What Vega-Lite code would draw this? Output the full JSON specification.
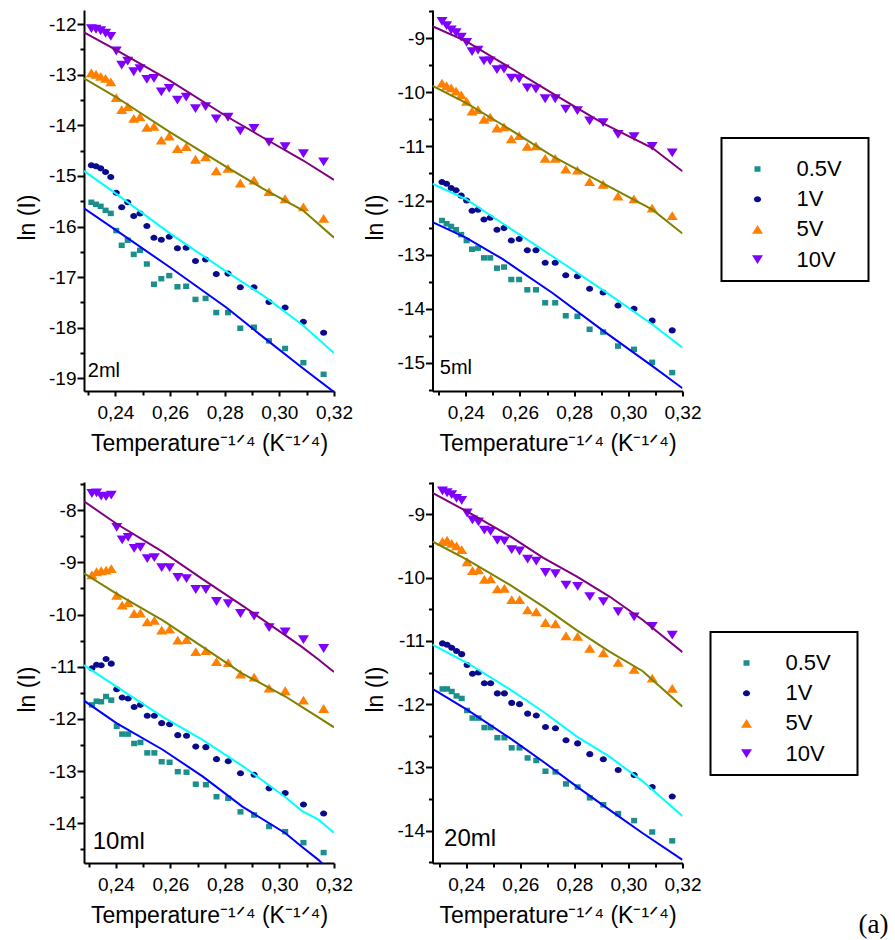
{
  "$schema": "https://vega.github.io/schema/vega-lite/v6.json",
  "padding": {"left": 16, "top": 10, "right": 40, "bottom": 5},
  "background": "white",
  "config": {
    "font": "Liberation Sans",
    "locale": {"number": {"decimal": ",", "thousands": ".", "grouping": [3], "currency": ["", ""], "minus": "-"}},
    "view": {"stroke": null},
    "axis": {"domainColor": "black", "domainWidth": 2, "tickColor": "black", "tickWidth": 2, "labelColor": "black", "labelFontSize": 19, "labelFont": "Liberation Sans", "titleFont": "Liberation Sans", "titleFontSize": 23, "titleFontWeight": "normal", "titleColor": "black", "grid": false, "labelOverlap": false, "labelSeparation": -100, "labelFlush": false},
    "legend": {"strokeWidth": 2}
  },
  "datasets": {
    "pts": [
      {"p":"2ml","x":0.2312,"v05":-15.52,"v1":-14.79,"v5":-12.96,"v10":-12.09},
      {"p":"2ml","x":0.2329,"v05":-15.56,"v1":-14.81,"v5":-12.99,"v10":-12.1},
      {"p":"2ml","x":0.2346,"v05":-15.6,"v1":-14.85,"v5":-13.03,"v10":-12.13},
      {"p":"2ml","x":0.2364,"v05":-15.68,"v1":-14.92,"v5":-13.07,"v10":-12.18},
      {"p":"2ml","x":0.2383,"v05":-15.74,"v1":-15.02,"v5":-13.14,"v10":-12.24},
      {"p":"2ml","x":0.2403,"v05":-16.08,"v1":-15.33,"v5":-13.45,"v10":-12.53},
      {"p":"2ml","x":0.2423,"v05":-16.37,"v1":-15.62,"v5":-13.69,"v10":-12.81},
      {"p":"2ml","x":0.2445,"v05":-16.27,"v1":-15.52,"v5":-13.63,"v10":-12.73},
      {"p":"2ml","x":0.2467,"v05":-16.55,"v1":-15.79,"v5":-13.86,"v10":-12.94},
      {"p":"2ml","x":0.249,"v05":-16.47,"v1":-15.74,"v5":-13.83,"v10":-12.88},
      {"p":"2ml","x":0.2515,"v05":-16.74,"v1":-15.99,"v5":-14.04,"v10":-13.09},
      {"p":"2ml","x":0.2541,"v05":-17.14,"v1":-16.22,"v5":-14.02,"v10":-13.07},
      {"p":"2ml","x":0.2568,"v05":-17.03,"v1":-16.26,"v5":-14.29,"v10":-13.34},
      {"p":"2ml","x":0.2597,"v05":-16.97,"v1":-16.2,"v5":-14.21,"v10":-13.27},
      {"p":"2ml","x":0.2627,"v05":-17.19,"v1":-16.43,"v5":-14.46,"v10":-13.5},
      {"p":"2ml","x":0.2659,"v05":-17.18,"v1":-16.42,"v5":-14.42,"v10":-13.44},
      {"p":"2ml","x":0.2693,"v05":-17.44,"v1":-16.68,"v5":-14.67,"v10":-13.67},
      {"p":"2ml","x":0.273,"v05":-17.42,"v1":-16.65,"v5":-14.62,"v10":-13.63},
      {"p":"2ml","x":0.2769,"v05":-17.7,"v1":-16.94,"v5":-14.9,"v10":-13.87},
      {"p":"2ml","x":0.2812,"v05":-17.7,"v1":-16.93,"v5":-14.85,"v10":-13.84},
      {"p":"2ml","x":0.2857,"v05":-18.01,"v1":-17.2,"v5":-15.14,"v10":-14.11},
      {"p":"2ml","x":0.2907,"v05":-17.99,"v1":-17.2,"v5":-15.08,"v10":-14.06},
      {"p":"2ml","x":0.2962,"v05":-18.26,"v1":-17.49,"v5":-15.31,"v10":-14.33},
      {"p":"2ml","x":0.3021,"v05":-18.41,"v1":-17.6,"v5":-15.45,"v10":-14.42},
      {"p":"2ml","x":0.3088,"v05":-18.69,"v1":-17.88,"v5":-15.61,"v10":-14.56},
      {"p":"2ml","x":0.3162,"v05":-18.92,"v1":-18.1,"v5":-15.84,"v10":-14.72},
      {"p":"5ml","x":0.2312,"v05":-12.37,"v1":-11.66,"v5":-9.83,"v10":-8.69},
      {"p":"5ml","x":0.2329,"v05":-12.43,"v1":-11.69,"v5":-9.88,"v10":-8.77},
      {"p":"5ml","x":0.2346,"v05":-12.48,"v1":-11.77,"v5":-9.92,"v10":-8.85},
      {"p":"5ml","x":0.2364,"v05":-12.54,"v1":-11.81,"v5":-9.98,"v10":-8.9},
      {"p":"5ml","x":0.2383,"v05":-12.63,"v1":-11.91,"v5":-10.05,"v10":-8.98},
      {"p":"5ml","x":0.2403,"v05":-12.74,"v1":-12.0,"v5":-10.17,"v10":-9.08},
      {"p":"5ml","x":0.2423,"v05":-12.9,"v1":-12.19,"v5":-10.35,"v10":-9.25},
      {"p":"5ml","x":0.2445,"v05":-12.88,"v1":-12.17,"v5":-10.32,"v10":-9.22},
      {"p":"5ml","x":0.2467,"v05":-13.06,"v1":-12.35,"v5":-10.5,"v10":-9.42},
      {"p":"5ml","x":0.249,"v05":-13.06,"v1":-12.32,"v5":-10.46,"v10":-9.42},
      {"p":"5ml","x":0.2515,"v05":-13.25,"v1":-12.54,"v5":-10.66,"v10":-9.58},
      {"p":"5ml","x":0.2541,"v05":-13.23,"v1":-12.51,"v5":-10.64,"v10":-9.57},
      {"p":"5ml","x":0.2568,"v05":-13.46,"v1":-12.74,"v5":-10.86,"v10":-9.74},
      {"p":"5ml","x":0.2597,"v05":-13.46,"v1":-12.71,"v5":-10.8,"v10":-9.75},
      {"p":"5ml","x":0.2627,"v05":-13.65,"v1":-12.92,"v5":-11.0,"v10":-9.92},
      {"p":"5ml","x":0.2659,"v05":-13.65,"v1":-12.92,"v5":-10.99,"v10":-9.94},
      {"p":"5ml","x":0.2693,"v05":-13.89,"v1":-13.15,"v5":-11.22,"v10":-10.12},
      {"p":"5ml","x":0.273,"v05":-13.89,"v1":-13.15,"v5":-11.22,"v10":-10.12},
      {"p":"5ml","x":0.2769,"v05":-14.13,"v1":-13.38,"v5":-11.42,"v10":-10.31},
      {"p":"5ml","x":0.2812,"v05":-14.14,"v1":-13.4,"v5":-11.44,"v10":-10.34},
      {"p":"5ml","x":0.2857,"v05":-14.38,"v1":-13.63,"v5":-11.65,"v10":-10.53},
      {"p":"5ml","x":0.2907,"v05":-14.43,"v1":-13.7,"v5":-11.7,"v10":-10.56},
      {"p":"5ml","x":0.2962,"v05":-14.69,"v1":-13.94,"v5":-11.92,"v10":-10.78},
      {"p":"5ml","x":0.3021,"v05":-14.75,"v1":-14.0,"v5":-11.97,"v10":-10.82},
      {"p":"5ml","x":0.3088,"v05":-14.99,"v1":-14.22,"v5":-12.14,"v10":-11.0},
      {"p":"5ml","x":0.3162,"v05":-15.18,"v1":-14.4,"v5":-12.28,"v10":-11.12},
      {"p":"10ml","x":0.2312,"v05":-11.73,"v1":-11.03,"v5":-9.24,"v10":-7.68},
      {"p":"10ml","x":0.2329,"v05":-11.66,"v1":-10.96,"v5":-9.18,"v10":-7.67},
      {"p":"10ml","x":0.2346,"v05":-11.67,"v1":-10.97,"v5":-9.16,"v10":-7.73},
      {"p":"10ml","x":0.2364,"v05":-11.57,"v1":-10.85,"v5":-9.15,"v10":-7.74},
      {"p":"10ml","x":0.2383,"v05":-11.64,"v1":-10.94,"v5":-9.12,"v10":-7.71},
      {"p":"10ml","x":0.2403,"v05":-12.14,"v1":-11.43,"v5":-9.63,"v10":-8.33},
      {"p":"10ml","x":0.2423,"v05":-12.29,"v1":-11.59,"v5":-9.82,"v10":-8.57},
      {"p":"10ml","x":0.2445,"v05":-12.29,"v1":-11.61,"v5":-9.77,"v10":-8.52},
      {"p":"10ml","x":0.2467,"v05":-12.47,"v1":-11.77,"v5":-9.98,"v10":-8.73},
      {"p":"10ml","x":0.249,"v05":-12.45,"v1":-11.73,"v5":-9.97,"v10":-8.71},
      {"p":"10ml","x":0.2515,"v05":-12.65,"v1":-11.94,"v5":-10.14,"v10":-8.93},
      {"p":"10ml","x":0.2541,"v05":-12.65,"v1":-11.94,"v5":-10.11,"v10":-8.91},
      {"p":"10ml","x":0.2568,"v05":-12.82,"v1":-12.08,"v5":-10.3,"v10":-9.1},
      {"p":"10ml","x":0.2597,"v05":-12.83,"v1":-12.1,"v5":-10.28,"v10":-9.1},
      {"p":"10ml","x":0.2627,"v05":-13.01,"v1":-12.31,"v5":-10.49,"v10":-9.29},
      {"p":"10ml","x":0.2659,"v05":-13.02,"v1":-12.32,"v5":-10.48,"v10":-9.31},
      {"p":"10ml","x":0.2693,"v05":-13.25,"v1":-12.53,"v5":-10.71,"v10":-9.52},
      {"p":"10ml","x":0.273,"v05":-13.26,"v1":-12.54,"v5":-10.69,"v10":-9.52},
      {"p":"10ml","x":0.2769,"v05":-13.49,"v1":-12.77,"v5":-10.9,"v10":-9.75},
      {"p":"10ml","x":0.2812,"v05":-13.52,"v1":-12.81,"v5":-10.92,"v10":-9.79},
      {"p":"10ml","x":0.2857,"v05":-13.78,"v1":-13.04,"v5":-11.14,"v10":-9.98},
      {"p":"10ml","x":0.2907,"v05":-13.84,"v1":-13.07,"v5":-11.2,"v10":-10.03},
      {"p":"10ml","x":0.2962,"v05":-14.06,"v1":-13.33,"v5":-11.41,"v10":-10.25},
      {"p":"10ml","x":0.3021,"v05":-14.16,"v1":-13.42,"v5":-11.46,"v10":-10.33},
      {"p":"10ml","x":0.3088,"v05":-14.37,"v1":-13.64,"v5":-11.64,"v10":-10.48},
      {"p":"10ml","x":0.3162,"v05":-14.56,"v1":-13.81,"v5":-11.8,"v10":-10.65},
      {"p":"20ml","x":0.2312,"v05":-11.76,"v1":-11.04,"v5":-9.43,"v10":-8.63},
      {"p":"20ml","x":0.2329,"v05":-11.76,"v1":-11.06,"v5":-9.41,"v10":-8.66},
      {"p":"20ml","x":0.2346,"v05":-11.8,"v1":-11.11,"v5":-9.46,"v10":-8.69},
      {"p":"20ml","x":0.2364,"v05":-11.87,"v1":-11.16,"v5":-9.5,"v10":-8.75},
      {"p":"20ml","x":0.2383,"v05":-11.91,"v1":-11.21,"v5":-9.56,"v10":-8.78},
      {"p":"20ml","x":0.2403,"v05":-12.1,"v1":-11.38,"v5":-9.75,"v10":-8.98},
      {"p":"20ml","x":0.2423,"v05":-12.22,"v1":-11.52,"v5":-9.89,"v10":-9.09},
      {"p":"20ml","x":0.2445,"v05":-12.22,"v1":-11.5,"v5":-9.88,"v10":-9.12},
      {"p":"20ml","x":0.2467,"v05":-12.37,"v1":-11.67,"v5":-10.03,"v10":-9.25},
      {"p":"20ml","x":0.249,"v05":-12.37,"v1":-11.67,"v5":-10.02,"v10":-9.27},
      {"p":"20ml","x":0.2515,"v05":-12.53,"v1":-11.83,"v5":-10.18,"v10":-9.41},
      {"p":"20ml","x":0.2541,"v05":-12.53,"v1":-11.83,"v5":-10.17,"v10":-9.42},
      {"p":"20ml","x":0.2568,"v05":-12.69,"v1":-11.98,"v5":-10.35,"v10":-9.56},
      {"p":"20ml","x":0.2597,"v05":-12.69,"v1":-12.0,"v5":-10.35,"v10":-9.58},
      {"p":"20ml","x":0.2627,"v05":-12.85,"v1":-12.15,"v5":-10.51,"v10":-9.71},
      {"p":"20ml","x":0.2659,"v05":-12.89,"v1":-12.18,"v5":-10.54,"v10":-9.74},
      {"p":"20ml","x":0.2693,"v05":-13.06,"v1":-12.36,"v5":-10.71,"v10":-9.92},
      {"p":"20ml","x":0.273,"v05":-13.07,"v1":-12.38,"v5":-10.73,"v10":-9.94},
      {"p":"20ml","x":0.2769,"v05":-13.26,"v1":-12.57,"v5":-10.92,"v10":-10.12},
      {"p":"20ml","x":0.2812,"v05":-13.31,"v1":-12.62,"v5":-10.93,"v10":-10.14},
      {"p":"20ml","x":0.2857,"v05":-13.48,"v1":-12.79,"v5":-11.12,"v10":-10.3},
      {"p":"20ml","x":0.2907,"v05":-13.59,"v1":-12.87,"v5":-11.19,"v10":-10.38},
      {"p":"20ml","x":0.2962,"v05":-13.73,"v1":-13.04,"v5":-11.34,"v10":-10.54},
      {"p":"20ml","x":0.3021,"v05":-13.84,"v1":-13.12,"v5":-11.45,"v10":-10.62},
      {"p":"20ml","x":0.3088,"v05":-14.02,"v1":-13.31,"v5":-11.59,"v10":-10.77},
      {"p":"20ml","x":0.3162,"v05":-14.16,"v1":-13.46,"v5":-11.75,"v10":-10.91}
    ],
    "fit": [
      {"p":"2ml","x":0.2285,"v05":-15.64,"v1":-14.9,"v5":-13.07,"v10":-12.16},
      {"p":"2ml","x":0.2402,"v05":-16.07,"v1":-15.35,"v5":-13.44,"v10":-12.51},
      {"p":"2ml","x":0.2598,"v05":-16.8,"v1":-16.13,"v5":-14.13,"v10":-13.11},
      {"p":"2ml","x":0.2806,"v05":-17.6,"v1":-16.89,"v5":-14.82,"v10":-13.82},
      {"p":"2ml","x":0.294,"v05":-18.18,"v1":-17.36,"v5":-15.25,"v10":-14.24},
      {"p":"2ml","x":0.3086,"v05":-18.8,"v1":-17.95,"v5":-15.68,"v10":-14.69},
      {"p":"2ml","x":0.32,"v05":-19.27,"v1":-18.5,"v5":-16.22,"v10":-15.08},
      {"p":"5ml","x":0.2277,"v05":-12.4,"v1":-11.69,"v5":-9.88,"v10":-8.78},
      {"p":"5ml","x":0.2402,"v05":-12.69,"v1":-11.98,"v5":-10.2,"v10":-9.06},
      {"p":"5ml","x":0.2535,"v05":-13.08,"v1":-12.42,"v5":-10.6,"v10":-9.46},
      {"p":"5ml","x":0.272,"v05":-13.71,"v1":-13.03,"v5":-11.18,"v10":-10.02},
      {"p":"5ml","x":0.2905,"v05":-14.4,"v1":-13.65,"v5":-11.68,"v10":-10.57},
      {"p":"5ml","x":0.3089,"v05":-15.06,"v1":-14.29,"v5":-12.17,"v10":-11.03},
      {"p":"5ml","x":0.32,"v05":-15.47,"v1":-14.72,"v5":-12.61,"v10":-11.46},
      {"p":"10ml","x":0.2283,"v05":-11.65,"v1":-10.97,"v5":-9.21,"v10":-7.83},
      {"p":"10ml","x":0.2402,"v05":-12.08,"v1":-11.38,"v5":-9.6,"v10":-8.26},
      {"p":"10ml","x":0.2572,"v05":-12.59,"v1":-11.96,"v5":-10.11,"v10":-8.8},
      {"p":"10ml","x":0.2718,"v05":-13.1,"v1":-12.4,"v5":-10.62,"v10":-9.32},
      {"p":"10ml","x":0.2864,"v05":-13.68,"v1":-12.9,"v5":-11.13,"v10":-9.83},
      {"p":"10ml","x":0.3022,"v05":-14.19,"v1":-13.5,"v5":-11.57,"v10":-10.4},
      {"p":"10ml","x":0.3082,"v05":-14.45,"v1":-13.76,"v5":-11.77,"v10":-10.62},
      {"p":"10ml","x":0.3143,"v05":-14.7,"v1":-13.93,"v5":-11.97,"v10":-10.86},
      {"p":"10ml","x":0.32,"v05":-15.0,"v1":-14.18,"v5":-12.16,"v10":-11.1},
      {"p":"20ml","x":0.2275,"v05":-11.76,"v1":-11.06,"v5":-9.43,"v10":-8.66},
      {"p":"20ml","x":0.2404,"v05":-12.09,"v1":-11.35,"v5":-9.72,"v10":-8.96},
      {"p":"20ml","x":0.2563,"v05":-12.54,"v1":-11.77,"v5":-10.12,"v10":-9.35},
      {"p":"20ml","x":0.2685,"v05":-12.91,"v1":-12.12,"v5":-10.46,"v10":-9.69},
      {"p":"20ml","x":0.2808,"v05":-13.3,"v1":-12.51,"v5":-10.83,"v10":-9.98},
      {"p":"20ml","x":0.293,"v05":-13.67,"v1":-12.83,"v5":-11.17,"v10":-10.3},
      {"p":"20ml","x":0.3053,"v05":-14.04,"v1":-13.22,"v5":-11.48,"v10":-10.67},
      {"p":"20ml","x":0.32,"v05":-14.46,"v1":-13.77,"v5":-12.04,"v10":-11.18}
    ]
  },
  "columns": 2,
  "spacing": {"row": 91, "column": 98.5},
  "bounds": "flush",
  "resolve": {
    "scale": {"x": "independent", "y": "independent", "fill": "independent", "shape": "independent", "stroke": "independent"},
    "axis": {"x": "independent", "y": "independent"},
    "legend": {"fill": "independent", "shape": "independent", "stroke": "independent"}
  },
  "title": {"text": "(a)", "orient": "bottom", "anchor": "end", "font": "Liberation Serif", "fontSize": 27, "fontWeight": "normal", "color": "black", "offset": -15, "dx": 19},
  "concat": [
    {
      "width": 250, "height": 381,
      "encoding": {
        "x": {"field": "x", "type": "quantitative", "scale": {"domain": [0.2285, 0.32], "nice": false, "zero": false},
          "axis": {"values": [0.23, 0.24, 0.25, 0.26, 0.27, 0.28, 0.29, 0.3, 0.31, 0.32], "format": ".2f", "labelOverlap": false, "labelSeparation": -100, "labelExpr": "round(datum.value*100) % 2 == 0 ? datum.label : ''", "labelFontSize": {"condition": {"test": "round(datum.value*100) % 2 == 1", "value": 1}, "value": 19}, "tickSize": {"condition": {"test": "round(datum.value*100) % 2 == 1", "value": 4}, "value": 5}, "labelPadding": 7, "title": "Temperature\u207b\u00b9\u141f\u2074 (K\u207b\u00b9\u141f\u2074)", "titleX": 125, "titleY": 59, "titleBaseline": "alphabetic", "titleAlign": "center"}},
        "y": {"field": "y", "type": "quantitative", "scale": {"domain": [-19.25, -11.72], "nice": false, "zero": false},
          "axis": {"values": [-19, -18.5, -18, -17.5, -17, -16.5, -16, -15.5, -15, -14.5, -14, -13.5, -13, -12.5, -12], "labelOverlap": false, "labelSeparation": -100, "labelExpr": "datum.value % 1 == 0 ? '' + datum.value : ''", "labelFontSize": {"condition": {"test": "datum.value % 1 != 0", "value": 1}, "value": 19}, "tickSize": {"condition": {"test": "datum.value % 1 != 0", "value": 4}, "value": 7}, "labelPadding": 1, "title": "ln (I)", "titleX": -50, "titleY": 207, "titleBaseline": "alphabetic", "titleAlign": "center", "titleAngle": -90}}
      },
      "layer": [
        {
          "data": {"name": "pts"},
          "transform": [{"filter": "datum.p == '2ml'"}, {"fold": ["v05", "v1", "v5", "v10"], "as": ["V", "y"]}],
          "mark": {"type": "point", "filled": true, "opacity": 1, "strokeWidth": 0, "size": 121},
          "encoding": {
            "fill": {"field": "V", "type": "nominal", "scale": {"domain": ["v05", "v1", "v5", "v10"], "range": ["#1a8f8c", "#0a0a8c", "#ff8000", "#8000ff"]}, "legend": null},
            "shape": {"field": "V", "type": "nominal", "scale": {"domain": ["v05", "v1", "v5", "v10"], "range": ["M-0.55,-0.5H0.55V0.5H-0.55Z", "M0.64,0A0.64,0.55 0 1,1 -0.64,0A0.64,0.55 0 1,1 0.64,0Z", "M0,-0.8L-1,0.8L1,0.8Z", "M0,0.8L-1,-0.8L1,-0.8Z"]}, "legend": null}
          }
        },
        {
          "data": {"name": "fit"},
          "transform": [{"filter": "datum.p == '2ml'"}, {"fold": ["v05", "v1", "v5", "v10"], "as": ["V", "y"]}],
          "mark": {"type": "line", "strokeWidth": 2, "clip": true},
          "encoding": {
            "stroke": {"field": "V", "type": "nominal", "scale": {"domain": ["v05", "v1", "v5", "v10"], "range": ["#0000ff", "#00ffff", "#808000", "#800080"]}, "legend": null}
          }
        },
        {
          "data": {"values": [{"x": 0.2299, "y": -18.97, "t": "2ml"}]},
          "mark": {"type": "text", "align": "left", "baseline": "alphabetic", "fontSize": 20, "font": "Liberation Sans", "color": "black"},
          "encoding": {"text": {"field": "t"}}
        }
      ]
    },
    {
      "width": 250, "height": 381,
      "encoding": {
        "x": {"field": "x", "type": "quantitative", "scale": {"domain": [0.2277, 0.32], "nice": false, "zero": false},
          "axis": {"values": [0.23, 0.24, 0.25, 0.26, 0.27, 0.28, 0.29, 0.3, 0.31, 0.32], "format": ".2f", "labelOverlap": false, "labelSeparation": -100, "labelExpr": "round(datum.value*100) % 2 == 0 ? datum.label : ''", "labelFontSize": {"condition": {"test": "round(datum.value*100) % 2 == 1", "value": 1}, "value": 19}, "tickSize": {"condition": {"test": "round(datum.value*100) % 2 == 1", "value": 4}, "value": 5}, "labelPadding": 7, "title": "Temperature\u207b\u00b9\u141f\u2074 (K\u207b\u00b9\u141f\u2074)", "titleX": 125, "titleY": 59, "titleBaseline": "alphabetic", "titleAlign": "center"}},
        "y": {"field": "y", "type": "quantitative", "scale": {"domain": [-15.52, -8.48], "nice": false, "zero": false},
          "axis": {"values": [-15.5, -15, -14.5, -14, -13.5, -13, -12.5, -12, -11.5, -11, -10.5, -10, -9.5, -9, -8.5], "labelOverlap": false, "labelSeparation": -100, "labelExpr": "datum.value % 1 == 0 ? '' + datum.value : ''", "labelFontSize": {"condition": {"test": "datum.value % 1 != 0", "value": 1}, "value": 19}, "tickSize": {"condition": {"test": "datum.value % 1 != 0", "value": 4}, "value": 7}, "labelPadding": 1, "title": "ln (I)", "titleX": -50, "titleY": 207, "titleBaseline": "alphabetic", "titleAlign": "center", "titleAngle": -90}}
      },
      "layer": [
        {
          "data": {"name": "pts"},
          "transform": [{"filter": "datum.p == '5ml'"}, {"fold": ["v05", "v1", "v5", "v10"], "as": ["V", "y"]}],
          "mark": {"type": "point", "filled": true, "opacity": 1, "strokeWidth": 0, "size": 121},
          "encoding": {
            "fill": {"field": "V", "type": "nominal", "scale": {"domain": ["v05", "v1", "v5", "v10"], "range": ["#1a8f8c", "#0a0a8c", "#ff8000", "#8000ff"]},
              "legend": {"orient": "none", "legendX": 289, "legendY": 128, "title": "\u2007\u2007\u2007\u2007\u2007\u2007\u2007\u2007\u2007\u2007\u2007\u2007\u2007\u2007\u2007\u2007\u2007\u2007\u2007\u2007\u2007\u2007\u2007\u2007\u2007", "titleFontSize": 10, "titlePadding": 0, "padding": 10, "strokeColor": "black", "fillColor": "white", "labelFontSize": 22, "labelFont": "Liberation Sans", "labelColor": "black", "symbolOffset": 15, "labelOffset": 28, "rowPadding": 8.2, "symbolSize": 121, "symbolStrokeWidth": 0, "labelExpr": "(datum.label == 'v05' ? '0.5V' : datum.label == 'v1' ? '1V' : datum.label == 'v5' ? '5V' : '10V') + '\u2800'"}},
            "shape": {"field": "V", "type": "nominal", "scale": {"domain": ["v05", "v1", "v5", "v10"], "range": ["M-0.55,-0.5H0.55V0.5H-0.55Z", "M0.64,0A0.64,0.55 0 1,1 -0.64,0A0.64,0.55 0 1,1 0.64,0Z", "M0,-0.8L-1,0.8L1,0.8Z", "M0,0.8L-1,-0.8L1,-0.8Z"]}}
          }
        },
        {
          "data": {"name": "fit"},
          "transform": [{"filter": "datum.p == '5ml'"}, {"fold": ["v05", "v1", "v5", "v10"], "as": ["V", "y"]}],
          "mark": {"type": "line", "strokeWidth": 2, "clip": true},
          "encoding": {
            "stroke": {"field": "V", "type": "nominal", "scale": {"domain": ["v05", "v1", "v5", "v10"], "range": ["#0000ff", "#00ffff", "#808000", "#800080"]}, "legend": null}
          }
        },
        {
          "data": {"values": [{"x": 0.2304, "y": -15.2, "t": "5ml"}]},
          "mark": {"type": "text", "align": "left", "baseline": "alphabetic", "fontSize": 20, "font": "Liberation Sans", "color": "black"},
          "encoding": {"text": {"field": "t"}}
        }
      ]
    },
    {
      "width": 250, "height": 381,
      "encoding": {
        "x": {"field": "x", "type": "quantitative", "scale": {"domain": [0.2283, 0.32], "nice": false, "zero": false},
          "axis": {"values": [0.23, 0.24, 0.25, 0.26, 0.27, 0.28, 0.29, 0.3, 0.31, 0.32], "format": ".2f", "labelOverlap": false, "labelSeparation": -100, "labelExpr": "round(datum.value*100) % 2 == 0 ? datum.label : ''", "labelFontSize": {"condition": {"test": "round(datum.value*100) % 2 == 1", "value": 1}, "value": 19}, "tickSize": {"condition": {"test": "round(datum.value*100) % 2 == 1", "value": 4}, "value": 5}, "labelPadding": 7, "title": "Temperature\u207b\u00b9\u141f\u2074 (K\u207b\u00b9\u141f\u2074)", "titleX": 125, "titleY": 59, "titleBaseline": "alphabetic", "titleAlign": "center"}},
        "y": {"field": "y", "type": "quantitative", "scale": {"domain": [-14.76, -7.46], "nice": false, "zero": false},
          "axis": {"values": [-14.5, -14, -13.5, -13, -12.5, -12, -11.5, -11, -10.5, -10, -9.5, -9, -8.5, -8, -7.5], "labelOverlap": false, "labelSeparation": -100, "labelExpr": "datum.value % 1 == 0 ? '' + datum.value : ''", "labelFontSize": {"condition": {"test": "datum.value % 1 != 0", "value": 1}, "value": 19}, "tickSize": {"condition": {"test": "datum.value % 1 != 0", "value": 4}, "value": 7}, "labelPadding": 1, "title": "ln (I)", "titleX": -50, "titleY": 207, "titleBaseline": "alphabetic", "titleAlign": "center", "titleAngle": -90}}
      },
      "layer": [
        {
          "data": {"name": "pts"},
          "transform": [{"filter": "datum.p == '10ml'"}, {"fold": ["v05", "v1", "v5", "v10"], "as": ["V", "y"]}],
          "mark": {"type": "point", "filled": true, "opacity": 1, "strokeWidth": 0, "size": 121},
          "encoding": {
            "fill": {"field": "V", "type": "nominal", "scale": {"domain": ["v05", "v1", "v5", "v10"], "range": ["#1a8f8c", "#0a0a8c", "#ff8000", "#8000ff"]}, "legend": null},
            "shape": {"field": "V", "type": "nominal", "scale": {"domain": ["v05", "v1", "v5", "v10"], "range": ["M-0.55,-0.5H0.55V0.5H-0.55Z", "M0.64,0A0.64,0.55 0 1,1 -0.64,0A0.64,0.55 0 1,1 0.64,0Z", "M0,-0.8L-1,0.8L1,0.8Z", "M0,0.8L-1,-0.8L1,-0.8Z"]}, "legend": null}
          }
        },
        {
          "data": {"name": "fit"},
          "transform": [{"filter": "datum.p == '10ml'"}, {"fold": ["v05", "v1", "v5", "v10"], "as": ["V", "y"]}],
          "mark": {"type": "line", "strokeWidth": 2, "clip": true},
          "encoding": {
            "stroke": {"field": "V", "type": "nominal", "scale": {"domain": ["v05", "v1", "v5", "v10"], "range": ["#0000ff", "#00ffff", "#808000", "#800080"]}, "legend": null}
          }
        },
        {
          "data": {"values": [{"x": 0.2315, "y": -14.49, "t": "10ml"}]},
          "mark": {"type": "text", "align": "left", "baseline": "alphabetic", "fontSize": 24, "font": "Liberation Sans", "color": "black"},
          "encoding": {"text": {"field": "t"}}
        }
      ]
    },
    {
      "width": 250, "height": 381,
      "encoding": {
        "x": {"field": "x", "type": "quantitative", "scale": {"domain": [0.2275, 0.32], "nice": false, "zero": false},
          "axis": {"values": [0.23, 0.24, 0.25, 0.26, 0.27, 0.28, 0.29, 0.3, 0.31, 0.32], "format": ".2f", "labelOverlap": false, "labelSeparation": -100, "labelExpr": "round(datum.value*100) % 2 == 0 ? datum.label : ''", "labelFontSize": {"condition": {"test": "round(datum.value*100) % 2 == 1", "value": 1}, "value": 19}, "tickSize": {"condition": {"test": "round(datum.value*100) % 2 == 1", "value": 4}, "value": 5}, "labelPadding": 7, "title": "Temperature\u207b\u00b9\u141f\u2074 (K\u207b\u00b9\u141f\u2074)", "titleX": 125, "titleY": 59, "titleBaseline": "alphabetic", "titleAlign": "center"}},
        "y": {"field": "y", "type": "quantitative", "scale": {"domain": [-14.51, -8.49], "nice": false, "zero": false},
          "axis": {"values": [-14.5, -14, -13.5, -13, -12.5, -12, -11.5, -11, -10.5, -10, -9.5, -9, -8.5], "labelOverlap": false, "labelSeparation": -100, "labelExpr": "datum.value % 1 == 0 ? '' + datum.value : ''", "labelFontSize": {"condition": {"test": "datum.value % 1 != 0", "value": 1}, "value": 19}, "tickSize": {"condition": {"test": "datum.value % 1 != 0", "value": 4}, "value": 7}, "labelPadding": 1, "title": "ln (I)", "titleX": -50, "titleY": 207, "titleBaseline": "alphabetic", "titleAlign": "center", "titleAngle": -90}}
      },
      "layer": [
        {
          "data": {"name": "pts"},
          "transform": [{"filter": "datum.p == '20ml'"}, {"fold": ["v05", "v1", "v5", "v10"], "as": ["V", "y"]}],
          "mark": {"type": "point", "filled": true, "opacity": 1, "strokeWidth": 0, "size": 121},
          "encoding": {
            "fill": {"field": "V", "type": "nominal", "scale": {"domain": ["v05", "v1", "v5", "v10"], "range": ["#1a8f8c", "#0a0a8c", "#ff8000", "#8000ff"]},
              "legend": {"orient": "none", "legendX": 278, "legendY": 150, "title": "\u2007\u2007\u2007\u2007\u2007\u2007\u2007\u2007\u2007\u2007\u2007\u2007\u2007\u2007\u2007\u2007\u2007\u2007\u2007\u2007\u2007\u2007\u2007\u2007\u2007", "titleFontSize": 10, "titlePadding": 0, "padding": 10, "strokeColor": "black", "fillColor": "white", "labelFontSize": 22, "labelFont": "Liberation Sans", "labelColor": "black", "symbolOffset": 15, "labelOffset": 28, "rowPadding": 8.2, "symbolSize": 121, "symbolStrokeWidth": 0, "labelExpr": "(datum.label == 'v05' ? '0.5V' : datum.label == 'v1' ? '1V' : datum.label == 'v5' ? '5V' : '10V') + '\u2800'"}},
            "shape": {"field": "V", "type": "nominal", "scale": {"domain": ["v05", "v1", "v5", "v10"], "range": ["M-0.55,-0.5H0.55V0.5H-0.55Z", "M0.64,0A0.64,0.55 0 1,1 -0.64,0A0.64,0.55 0 1,1 0.64,0Z", "M0,-0.8L-1,0.8L1,0.8Z", "M0,0.8L-1,-0.8L1,-0.8Z"]}}
          }
        },
        {
          "data": {"name": "fit"},
          "transform": [{"filter": "datum.p == '20ml'"}, {"fold": ["v05", "v1", "v5", "v10"], "as": ["V", "y"]}],
          "mark": {"type": "line", "strokeWidth": 2, "clip": true},
          "encoding": {
            "stroke": {"field": "V", "type": "nominal", "scale": {"domain": ["v05", "v1", "v5", "v10"], "range": ["#0000ff", "#00ffff", "#808000", "#800080"]}, "legend": null}
          }
        },
        {
          "data": {"values": [{"x": 0.2318, "y": -14.24, "t": "20ml"}]},
          "mark": {"type": "text", "align": "left", "baseline": "alphabetic", "fontSize": 24, "font": "Liberation Sans", "color": "black"},
          "encoding": {"text": {"field": "t"}}
        }
      ]
    }
  ]
}
